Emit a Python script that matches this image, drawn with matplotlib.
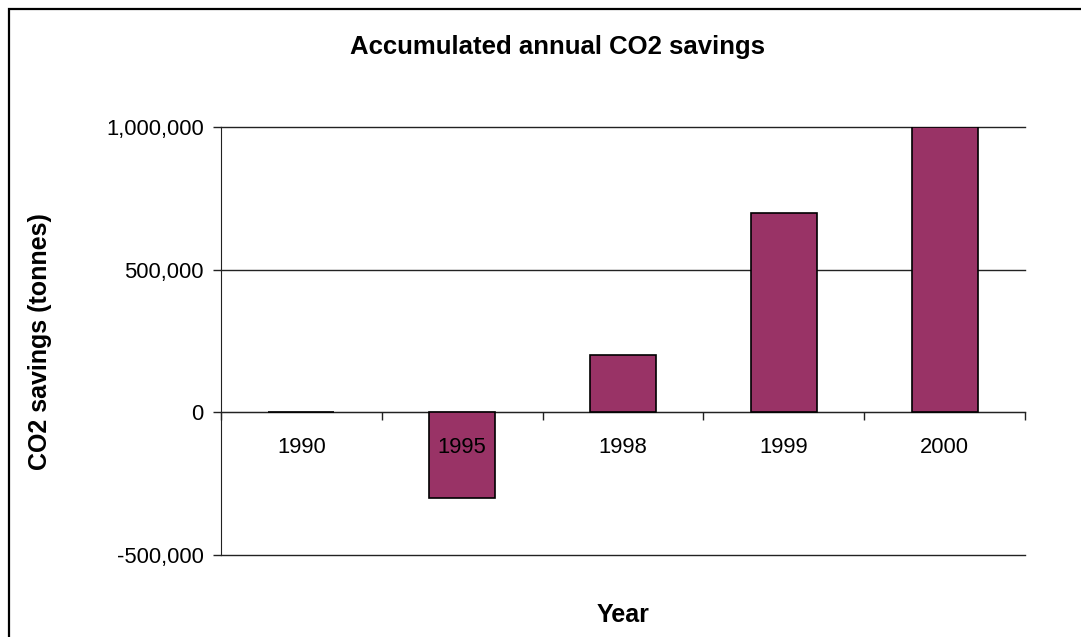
import matplotlib.pyplot as plt
import matplotlib.patches as patches
import matplotlib.transforms as mtransforms
from matplotlib.ticker import FuncFormatter
import numpy as np

plt.rcParams['font.family'] = ['Liberation Sans', 'DejaVu Sans']

years = ['1990', '1995', '1998', '1999', '2000']
savings = [0, -300000, 200000, 700000, 1000000]
y_ticks = [-500000, 0, 500000, 1000000]

fig = plt.figure(figsize=(10.81, 6.37), dpi=100)
ax = fig.add_axes([221 / 1081, 82 / 637, 804 / 1081, 428 / 637])

x = np.arange(len(years))
ax.bar(x, savings, width=0.41, color='#993366', edgecolor='black', linewidth=1.2, zorder=3)

ax.set_xlim(-0.5, len(years) - 0.5)
ax.set_ylim(-500000, 1000000)

# gridlines at every major y tick
ax.set_yticks(y_ticks)
ax.yaxis.set_major_formatter(FuncFormatter(lambda v, p: f'{int(v):,}'))
ax.yaxis.grid(True, color='#222222', linewidth=1.0, zorder=0)
for gl in ax.get_ygridlines():
    gl.set_clip_on(False)
ax.tick_params(axis='y', direction='out', length=6, width=1, colors='#222222',
               labelsize=15.8, labelcolor='black', pad=6.5)

# category axis sits on zero, boundaries ticked
ax.spines['bottom'].set_position(('data', 0))
ax.spines['bottom'].set_color('#222222')
ax.spines['left'].set_color('#222222')
ax.spines['top'].set_visible(False)
ax.spines['right'].set_visible(False)
ax.set_xticks(np.arange(len(years) + 1) - 0.5)
ax.set_xticklabels([])
ax.tick_params(axis='x', which='major', direction='out', length=6, width=1, colors='#222222')

# category labels drawn above the bars
below = mtransforms.offset_copy(ax.transData, fig=fig, x=0, y=-25.5, units='points')
for xi, label in zip(x, years):
    ax.text(xi, 0, label, transform=below, ha='center', va='center',
            fontsize=15.8, zorder=5)

fig.text(558 / 1081, 1 - 47 / 637, 'Accumulated annual CO2 savings', ha='center', va='center',
         fontsize=18.5, fontweight='bold')
fig.text(40 / 1081, 1 - 342 / 637, 'CO2 savings (tonnes)', ha='center', va='center',
         rotation=90, fontsize=18, fontweight='bold')
fig.text(623 / 1081, 1 - 615 / 637, 'Year', ha='center', va='center',
         fontsize=18, fontweight='bold')

# chart area frame
fig.patches.append(patches.Rectangle((9 / 1081, -0.2), 1.2, 0.2 + 1 - 8.5 / 637,
                                     transform=fig.transFigure, fill=False,
                                     edgecolor='black', linewidth=1.6))

fig.savefig('out.png', dpi=100)
